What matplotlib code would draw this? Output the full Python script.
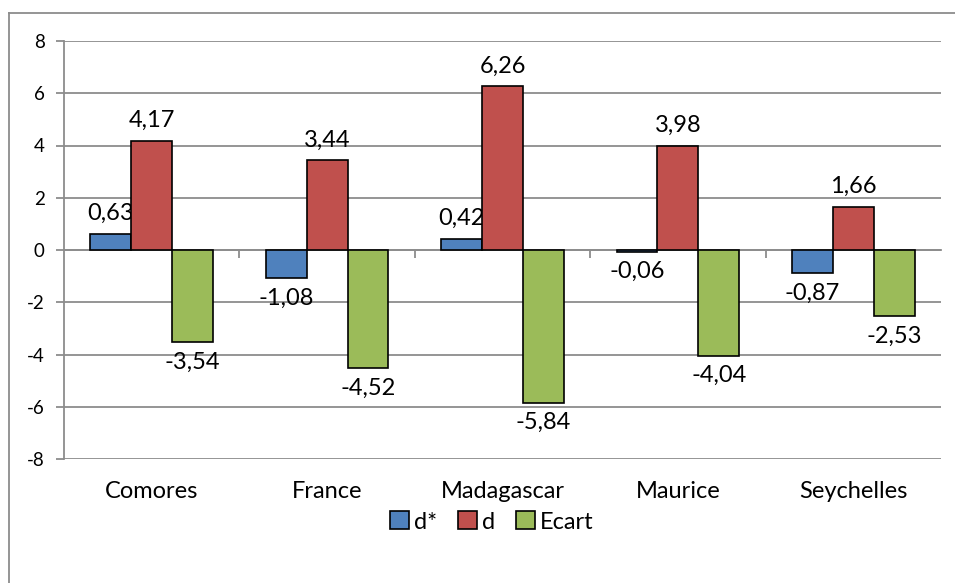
import numpy as np
import matplotlib.pyplot as plt
from matplotlib.patches import Patch
from matplotlib.lines import Line2D

# data
categories = ["Comores", "France", "Madagascar", "Maurice", "Seychelles"]
d_star = [0.63, -1.08, 0.42, -0.06, -0.87]
d_vals = [4.17, 3.44, 6.26, 3.98, 1.66]
ecart = [-3.54, -4.52, -5.84, -4.04, -2.53]
series_names = ["d*", "d", "Ecart"]
colors = ["#4F81BD", "#C0504D", "#9BBB59"]

plt.rcParams['font.family'] = ['Lato', 'DejaVu Sans']

W, H = 955, 583
fig = plt.figure(figsize=(W / 100, H / 100), dpi=100)
ax = fig.add_axes([64 / W, 1 - 459 / H, (941 - 64) / W, (459 - 41) / H])

x = np.arange(len(categories))
bw = 0.233
for i, (vals, col) in enumerate(zip([d_star, d_vals, ecart], colors)):
    pos = x + (i - 1) * bw
    ax.bar(pos, vals, width=bw, color=col, edgecolor="black", linewidth=1.2, zorder=3)
    for px, v in zip(pos, vals):
        lbl = f"{v:.2f}".replace(".", ",")
        if v >= 0:
            ax.annotate(lbl, (px, v), xytext=(0, 7), textcoords="offset points",
                        ha="center", va="bottom", fontsize=17)
        else:
            ax.annotate(lbl, (px, v), xytext=(0, -7), textcoords="offset points",
                        ha="center", va="top", fontsize=17)

ax.set_xlim(-0.5, len(categories) - 0.5)
ax.set_ylim(-8, 8)
ax.set_yticks(np.arange(-8, 9, 2))
ax.set_yticklabels([str(t) for t in range(-8, 9, 2)], fontsize=13.5)
ax.yaxis.grid(True, color="#8C8C8C", linewidth=1.3, zorder=0)
ax.tick_params(axis="y", length=6, width=1.3, color="#8C8C8C", pad=8)

# x axis sits at zero with ticks between categories
for s in ["top", "right"]:
    ax.spines[s].set_visible(False)
ax.spines["left"].set_color("#8C8C8C")
ax.spines["left"].set_linewidth(1.3)
ax.spines["bottom"].set_position(("data", 0))
ax.spines["bottom"].set_color("#8C8C8C")
ax.spines["bottom"].set_linewidth(1.3)
ax.set_xticks(np.arange(0.5, len(categories) - 0.5, 1))
ax.set_xticklabels([])
ax.tick_params(axis="x", length=6, width=1.3, color="#8C8C8C")
for xi, c in zip(x, categories):
    ax.text(xi, -9.25, c, ha="center", va="center", fontsize=17)

handles = [Patch(facecolor=c, edgecolor="black", linewidth=1.2) for c in colors]
fig.legend(handles, series_names, loc="center", bbox_to_anchor=(492 / W, 1 - 522 / H),
           ncol=3, frameon=False, fontsize=17, handlelength=0.8, handleheight=0.8,
           handletextpad=0.2, columnspacing=0.9)

# outer chart border
fig.add_artist(Line2D([9 / W, 9 / W], [0, 1 - 13 / H], transform=fig.transFigure,
                      color="#8C8C8C", linewidth=1.3))
fig.add_artist(Line2D([9 / W, 1], [1 - 13 / H, 1 - 13 / H], transform=fig.transFigure,
                      color="#8C8C8C", linewidth=1.3))

fig.savefig("out.png", dpi=100)
